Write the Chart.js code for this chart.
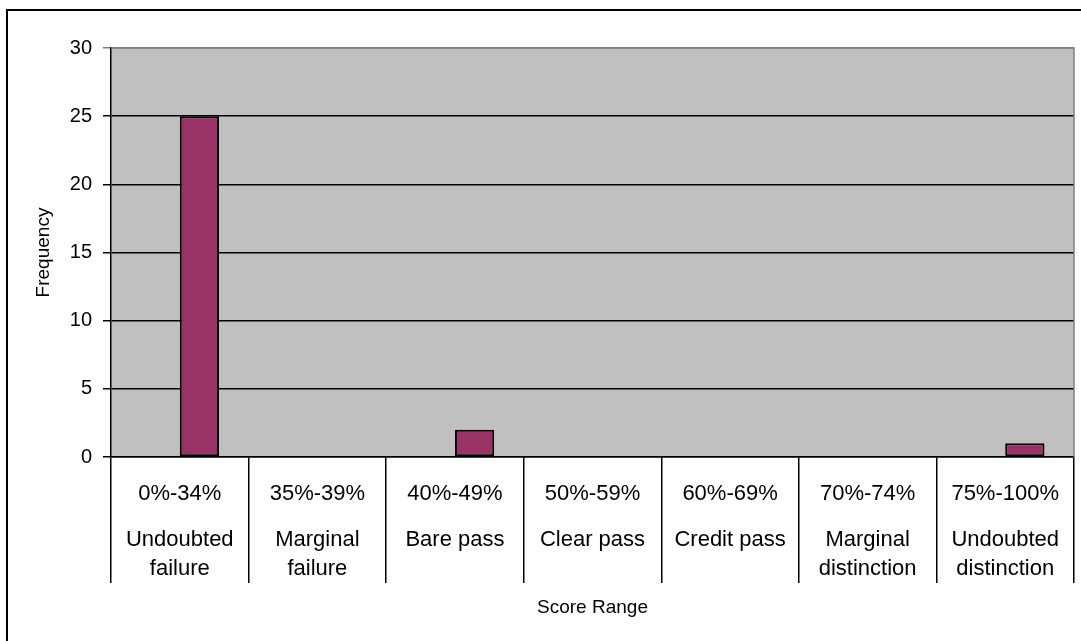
<!DOCTYPE html>
<html>
<head>
<meta charset="utf-8">
<script src="https://cdn.jsdelivr.net/npm/chart.js@4.4.1/dist/chart.umd.min.js"></script>
<style>
  html, body { margin: 0; padding: 0; background: #fff; overflow: hidden; }
  #frame { position: absolute; left: 6px; top: 9px; width: 1200px; height: 800px;
           border-top: 2px solid #000; border-left: 2px solid #000; }
  #myChart { position: absolute; left: 0; top: 0; }
</style>
</head>
<body>
<div id="frame"></div>
<canvas id="myChart" width="1081" height="641"></canvas>
<script>
// score ranges (first label row) and their descriptions (second row)
const rangeLabels = ['0%-34%', '35%-39%', '40%-49%', '50%-59%', '60%-69%', '70%-74%', '75%-100%'];
const descLabels = [
  ['Undoubted', 'failure'],
  ['Marginal', 'failure'],
  'Bare pass',
  'Clear pass',
  'Credit pass',
  ['Marginal', 'distinction'],
  ['Undoubted', 'distinction']
];
// empty first series keeps the bar offset like the original
const emptySeries = [null, null, null, null, null, null, null];
const frequency = [25, 0, 2, 0, 0, 0, 1];
const yTicks = [0, 5, 10, 15, 20, 25, 30];

const FONT = 'Arial, "Liberation Sans", sans-serif';

// grey plot area with darker top/right edge
const plotArea = {
  id: 'plotArea',
  beforeDraw(chart) {
    const { ctx, chartArea: a } = chart;
    ctx.save();
    ctx.fillStyle = '#C0C0C0';
    ctx.fillRect(a.left, a.top, a.right - a.left, a.bottom - a.top);
    ctx.restore();
  },
  afterDraw(chart) {
    const { ctx, chartArea: a } = chart;
    ctx.save();
    ctx.strokeStyle = '#808080';
    ctx.lineWidth = 1.5;
    ctx.beginPath();
    ctx.moveTo(a.left, a.top);
    ctx.lineTo(a.right, a.top);
    ctx.lineTo(a.right, a.bottom);
    ctx.stroke();
    ctx.restore();
  }
};

const ctx = document.getElementById('myChart').getContext('2d');
new Chart(ctx, {
  type: 'bar',
  data: {
    labels: rangeLabels,
    datasets: [
      { label: 'empty', data: emptySeries, backgroundColor: '#9999FF' },
      {
        label: 'Frequency',
        data: frequency,
        backgroundColor: '#993366',
        borderColor: '#000',
        borderWidth: 2,
        borderSkipped: false
      }
    ]
  },
  options: {
    responsive: false,
    animation: false,
    events: [],
    layout: { padding: { top: 48, right: 7, left: 0, bottom: 0 } },
    datasets: { bar: { categoryPercentage: 0.571, barPercentage: 1 } },
    plugins: { legend: { display: false }, tooltip: { enabled: false } },
    scales: {
      x: {
        position: 'bottom',
        weight: 0,
        grid: {
          offset: true,
          drawOnChartArea: false,
          drawTicks: true,
          tickLength: 126,
          color: '#000',
          lineWidth: 1.5
        },
        border: { display: true, color: '#000', width: 1.5 },
        ticks: {
          color: '#000',
          font: { family: FONT, size: 22 },
          padding: -102,
          maxRotation: 0,
          autoSkip: false
        },
        afterFit(scale) { scale.height = 60; }
      },
      x2: {
        type: 'category',
        labels: descLabels,
        position: 'bottom',
        weight: 1,
        offset: true,
        grid: { display: false },
        border: { display: false },
        ticks: {
          color: '#000',
          font: { family: FONT, size: 22, lineHeight: 29 / 22 },
          padding: 0.5,
          maxRotation: 0,
          autoSkip: false
        },
        title: {
          display: true,
          text: 'Score Range',
          color: '#000',
          font: { family: FONT, size: 19 },
          padding: { top: 0, bottom: 21.6 }
        },
        afterFit(scale) { scale.height = 124; }
      },
      y: {
        min: 0,
        max: 30,
        afterBuildTicks(scale) { scale.ticks = yTicks.map(v => ({ value: v })); },
        grid: {
          color: c => (c.tick && c.tick.value === 30 ? '#808080' : '#000'),
          lineWidth: 1.5,
          tickLength: 8
        },
        border: { display: true, color: '#000', width: 1.5 },
        ticks: {
          color: '#000',
          font: { family: FONT, size: 20 },
          padding: 11
        },
        title: {
          display: true,
          text: 'Frequency',
          color: '#000',
          font: { family: FONT, size: 19 },
          padding: { top: 32.6, bottom: 0 }
        },
        afterFit(scale) { scale.width = 111; }
      }
    }
  },
  plugins: [plotArea]
});
</script>
</body>
</html>
